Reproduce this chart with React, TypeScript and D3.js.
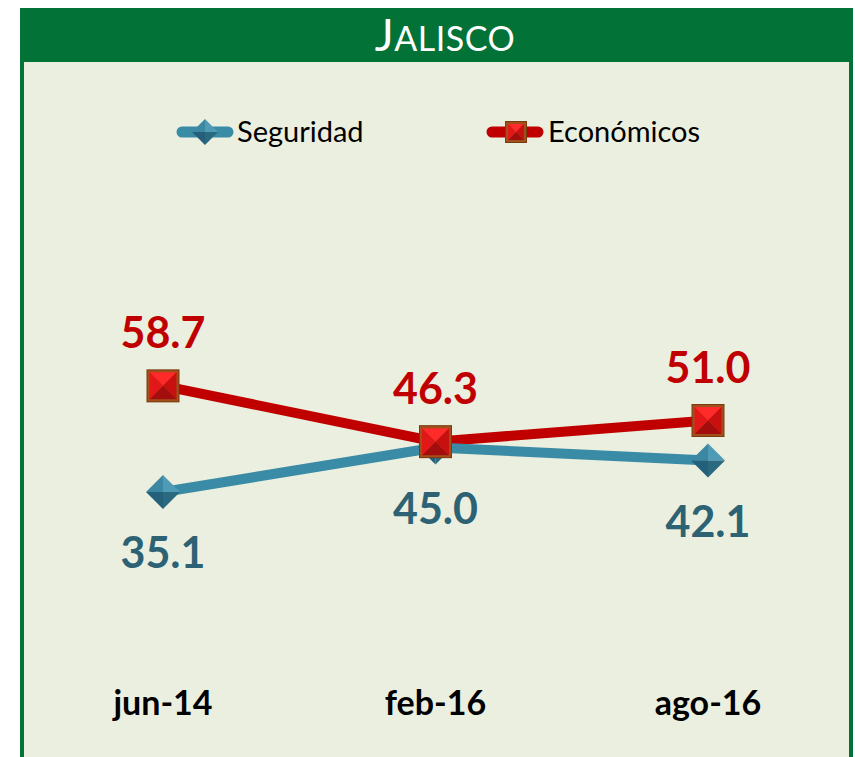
import * as d3 from 'd3';

const CATEGORIES = ['jun-14', 'feb-16', 'ago-16'];
const SEGURIDAD = [35.1, 45.0, 42.1];
const ECONOMICOS = [58.7, 46.3, 51.0];

const VW = 855;
const VH = 757;

const GREEN = '#037236';
const BG = '#ebefdf';
const TEAL = '#3a8ba5';
const TEAL_TEXT = '#2d6275';
const RED = '#c00000';
const FONT = 'Lato, "Open Sans", sans-serif';

const xScale = d3.scalePoint<string>().domain(CATEGORIES).range([163, 708]);
const yScale = d3.scaleLinear().domain([0, 100]).range([650, 200]);

const line = d3.line<number>()
  .x((_, i) => xScale(CATEGORIES[i])!)
  .y(d => yScale(d));

function Diamond({ x, y, r }: { x: number; y: number; r: number }) {
  return (
    <g transform={`translate(${x},${y})`}>
      <polygon points={`0,${-r} ${r},0 0,0`} fill="#4f9bb5" />
      <polygon points={`${r},0 0,${r} 0,0`} fill="#2a6a80" />
      <polygon points={`0,${r} ${-r},0 0,0`} fill="#24607a" />
      <polygon points={`${-r},0 0,${-r} 0,0`} fill="#3c87a1" />
    </g>
  );
}

function Square({ x, y, s }: { x: number; y: number; s: number }) {
  const h = s / 2;
  const i = h - 3;
  return (
    <g transform={`translate(${x},${y})`}>
      <rect x={-h} y={-h} width={s} height={s} fill="#7a3a10" />
      <rect x={-h + 1} y={-h + 1} width={s - 2} height={s - 2} fill="#a0501a" />
      <polygon points={`${-i},${-i} ${i},${-i} 0,0`} fill="#ff2a2a" />
      <polygon points={`${i},${-i} ${i},${i} 0,0`} fill="#c81010" />
      <polygon points={`${i},${i} ${-i},${i} 0,0`} fill="#a30d0d" />
      <polygon points={`${-i},${i} ${-i},${-i} 0,0`} fill="#e21818" />
    </g>
  );
}

export default function App() {
  return (
    <svg width={VW} height={VH} viewBox={`0 0 ${VW} ${VH}`}
      style={{ position: 'absolute', left: 0, top: 0, display: 'block' }}>
      <rect x={0} y={0} width={VW} height={VH} fill="#fff" />
      <rect x={20} y={8} width={833} height={VH} fill={GREEN} />
      <rect x={24} y={62} width={825} height={VH} fill={BG} />

      <text x={445} y={51} textAnchor="middle" fill="#fff" fontFamily={FONT} fontSize={34}
        style={{ fontVariant: 'small-caps' }} letterSpacing="0.5">
        <tspan fontSize={45}>J</tspan>ALISCO
      </text>

      {/* legend */}
      <g>
        <line x1={182} y1={132} x2={228} y2={132} stroke={TEAL} strokeWidth={11} strokeLinecap="round" />
        <Diamond x={205} y={132} r={13} />
        <text x={237} y={142} fontFamily={FONT} fontSize={29} fill="#000">Seguridad</text>
        <line x1={492} y1={132} x2={538} y2={132} stroke={RED} strokeWidth={11} strokeLinecap="round" />
        <Square x={516} y={132} s={22} />
        <text x={548} y={142} fontFamily={FONT} fontSize={29} fill="#000">Económicos</text>
      </g>

      <path d={line(ECONOMICOS)!} fill="none" stroke={RED} strokeWidth={10} />
      <path d={line(SEGURIDAD)!} fill="none" stroke={TEAL} strokeWidth={10} />

      {SEGURIDAD.map((v, i) => (
        <Diamond key={`sd${i}`} x={xScale(CATEGORIES[i])!} y={yScale(v)} r={17} />
      ))}
      {ECONOMICOS.map((v, i) => (
        <Square key={`es${i}`} x={xScale(CATEGORIES[i])!} y={yScale(v)} s={33} />
      ))}

      {ECONOMICOS.map((v, i) => (
        <text key={`el${i}`} x={xScale(CATEGORIES[i])!} y={yScale(v) - 38}
          textAnchor="middle" fontFamily={FONT} fontWeight={700} fontSize={43} fill={RED}>
          {v.toFixed(1)}
        </text>
      ))}
      {SEGURIDAD.map((v, i) => (
        <text key={`sl${i}`} x={xScale(CATEGORIES[i])!} y={yScale(v) + 76}
          textAnchor="middle" fontFamily={FONT} fontWeight={700} fontSize={43} fill={TEAL_TEXT}>
          {v.toFixed(1)}
        </text>
      ))}

      {CATEGORIES.map(c => (
        <text key={c} x={xScale(c)!} y={715} textAnchor="middle"
          fontFamily={FONT} fontWeight={700} fontSize={34} fill="#000">
          {c}
        </text>
      ))}
    </svg>
  );
}
